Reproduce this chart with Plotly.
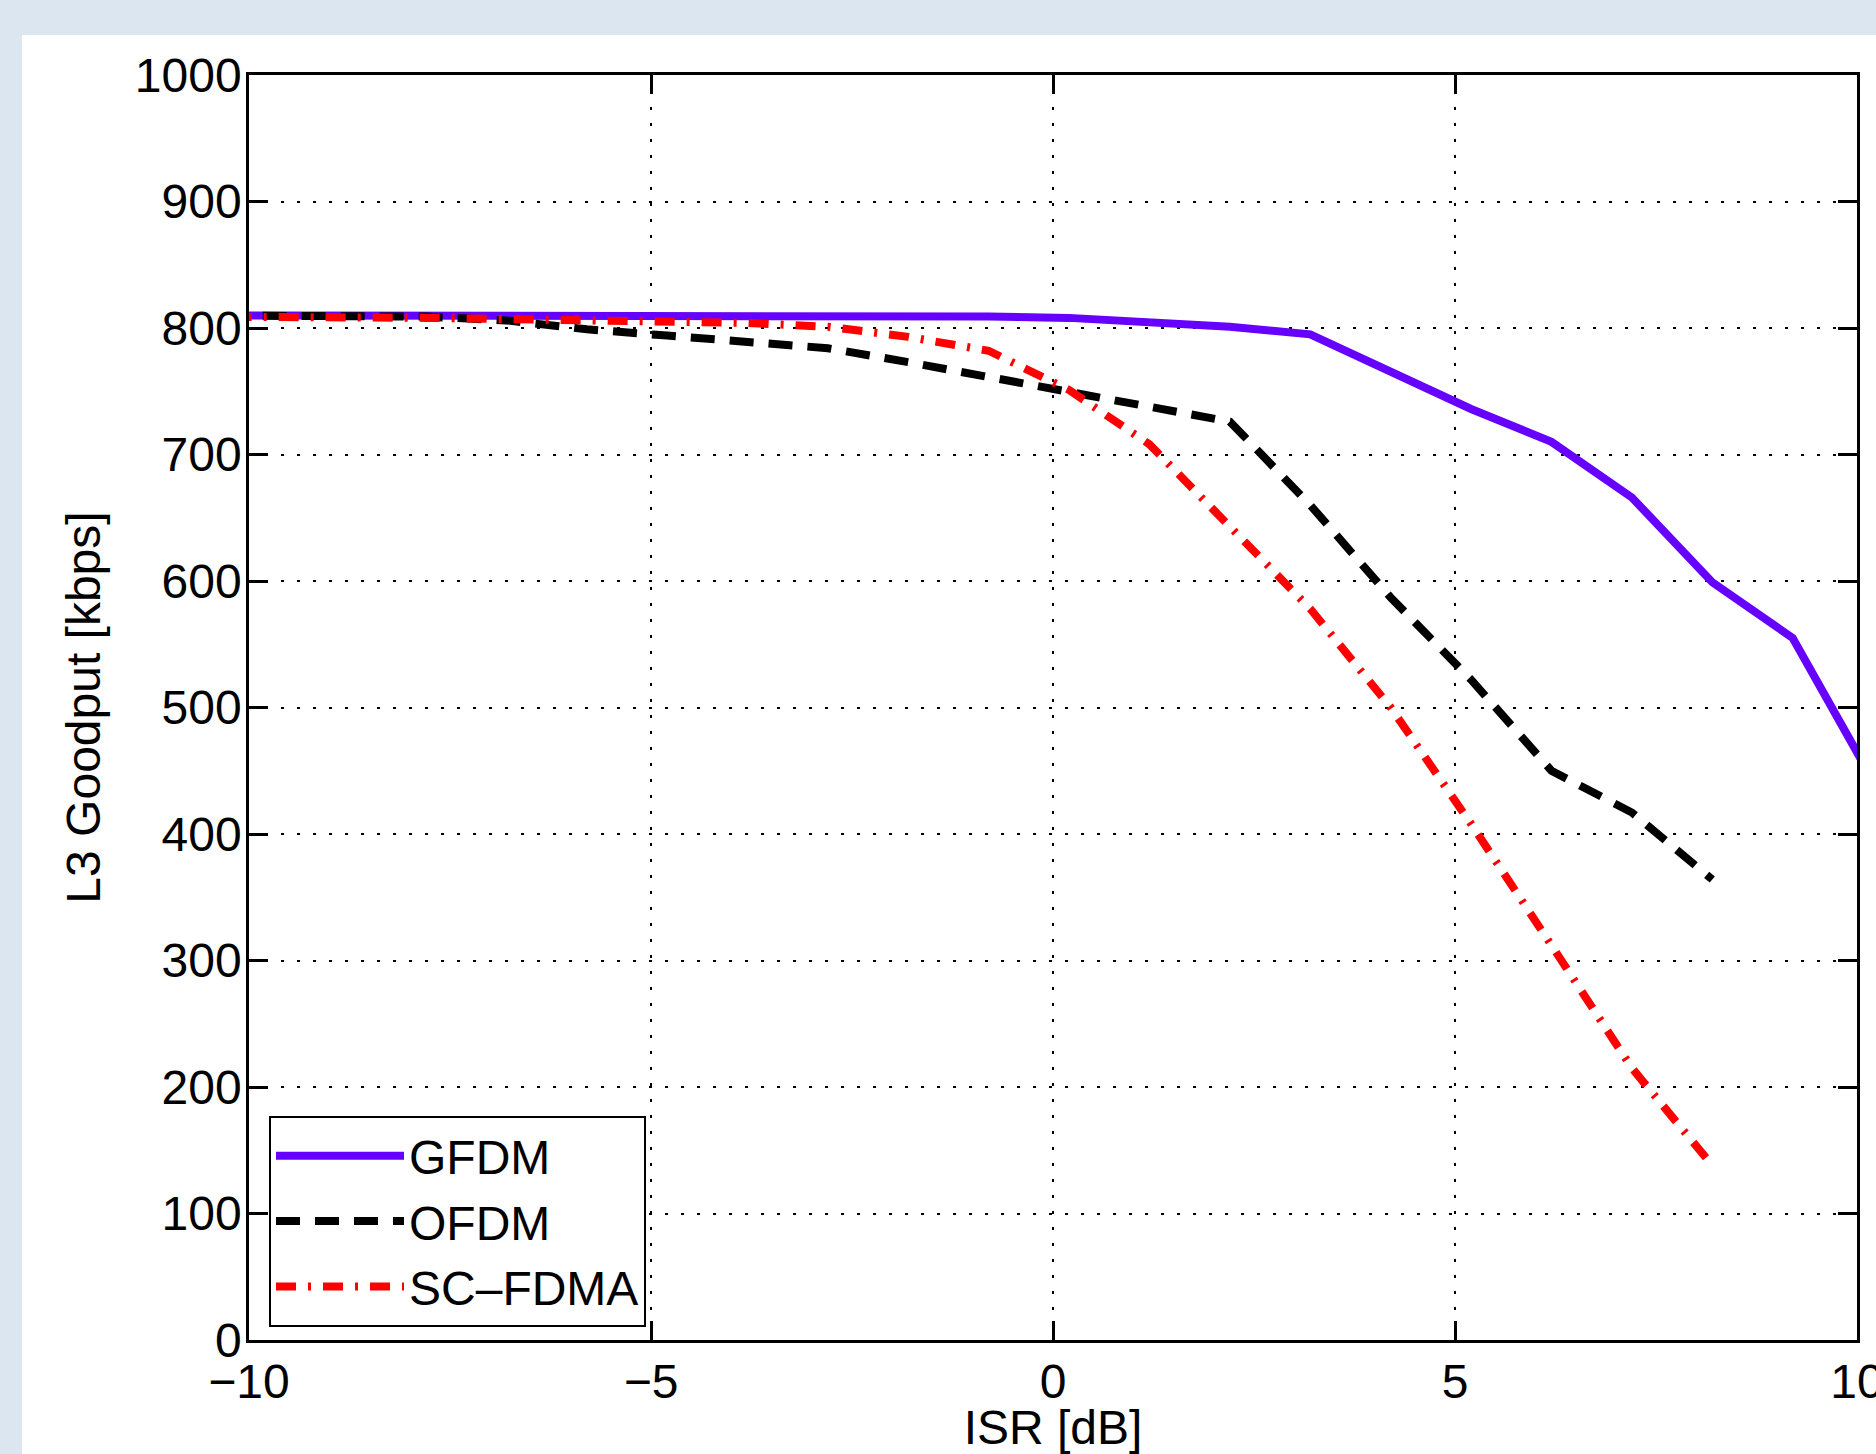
import plotly.graph_objects as go

# ---- data ----
isr_gfdm = [-10.8, -9.8, -8.8, -7.8, -6.8, -5.8, -4.8, -3.8, -2.8, -1.8, -0.8,
            0.2, 1.2, 2.2, 3.2, 4.2, 5.2, 6.2, 7.2, 8.2, 9.2, 10.2]
goodput_gfdm = [810, 810, 810, 810, 810, 810, 810, 810, 810, 809, 809,
                808, 805, 801, 795, 766, 736, 710, 666, 599, 555, 442]

isr_ofdm = [-10.8, -9.8, -8.8, -7.8, -6.8, -5.8, -4.8, -3.8, -2.8, -1.8, -0.8,
            0.2, 1.2, 2.2, 3.2, 4.2, 5.2, 6.2, 7.2, 8.2]
goodput_ofdm = [810, 810, 810, 809, 806, 799, 794, 789, 784, 773, 761,
                750, 738, 726, 660, 587, 522, 450, 417, 364]

isr_scfdma = [-10.8, -9.8, -8.8, -7.8, -6.8, -5.8, -4.8, -3.8, -2.8, -1.8, -0.8,
              0.2, 1.2, 2.2, 3.2, 4.2, 5.2, 6.2, 7.2, 8.2]
goodput_scfdma = [809, 809, 808, 808, 807, 806, 805, 804, 801, 793, 782,
                  751, 708, 644, 578, 500, 408, 312, 215, 138]

x_ticks = [-10, -5, 0, 5, 10]
y_ticks = [0, 100, 200, 300, 400, 500, 600, 700, 800, 900, 1000]

series_names = ["GFDM", "OFDM", "SC\u2013FDMA"]

# ---- layout geometry (pixels) ----
W, H = 1876, 1454
L, R, T, B = 249, 19, 75, 114
pw, ph = W - L - R, H - T - B

def px_to_paper_x(px):
    return (px - L) / pw

def px_to_paper_y(py):
    return (H - B - py) / ph

FONT = "Liberation Sans, Arial, Helvetica, sans-serif"
PAGE_BG = "#dce6f1"

fig = go.Figure()
fig.add_trace(go.Scatter(x=isr_gfdm, y=goodput_gfdm, mode="lines", name=series_names[0],
                         line=dict(color="#6600ff", width=8)))
fig.add_trace(go.Scatter(x=isr_ofdm, y=goodput_ofdm, mode="lines", name=series_names[1],
                         line=dict(color="#000000", width=8, dash="24px,15px")))
fig.add_trace(go.Scatter(x=isr_scfdma, y=goodput_scfdma, mode="lines", name=series_names[2],
                         line=dict(color="#ff0000", width=8, dash="20px,12px,3px,12px")))

# white panel over light-blue page
fig.add_shape(type="rect", xref="paper", yref="paper", layer="below",
              x0=px_to_paper_x(22), x1=px_to_paper_x(W + 5),
              y0=px_to_paper_y(H + 5), y1=px_to_paper_y(35),
              fillcolor="white", line=dict(width=0))

axis_common = dict(
    showline=True, linecolor="black", linewidth=2.5, mirror="ticks",
    ticks="inside", ticklen=19, tickwidth=2.5, tickcolor="black",
    showgrid=True, gridcolor="black", gridwidth=2, griddash="3px,13px",
    zeroline=False, automargin=False, ticklabeloverflow="allow",
    tickfont=dict(family=FONT, size=48, color="black"),
)

fig.update_xaxes(range=[-10, 10], tickmode="array", tickvals=x_ticks,
                 ticklabelstandoff=-2,
                 title=dict(text="ISR [dB]", font=dict(family=FONT, size=48, color="black"), standoff=8),
                 **axis_common)
fig.update_yaxes(range=[0, 1000], tickmode="array", tickvals=y_ticks,
                 ticklabelstandoff=-5,
                 title=dict(text="L3 Goodput [kbps]", font=dict(family=FONT, size=48, color="black"), standoff=20),
                 **axis_common)

fig.update_layout(
    width=W, height=H,
    margin=dict(l=L, r=R, t=T, b=B, pad=0, autoexpand=False),
    paper_bgcolor=PAGE_BG, plot_bgcolor="white",
    font=dict(family=FONT, size=48, color="black"),
    showlegend=True,
    legend=dict(x=px_to_paper_x(269), y=px_to_paper_y(1327), xanchor="left", yanchor="bottom",
                bgcolor="white", bordercolor="black", borderwidth=2,
                font=dict(family=FONT, size=48, color="black"),
                itemwidth=128, tracegroupgap=0),
)

fig.write_html("out.html", config={"displayModeBar": False},
               post_script="document.body.style.margin='0';document.body.style.background='%s';" % PAGE_BG)
